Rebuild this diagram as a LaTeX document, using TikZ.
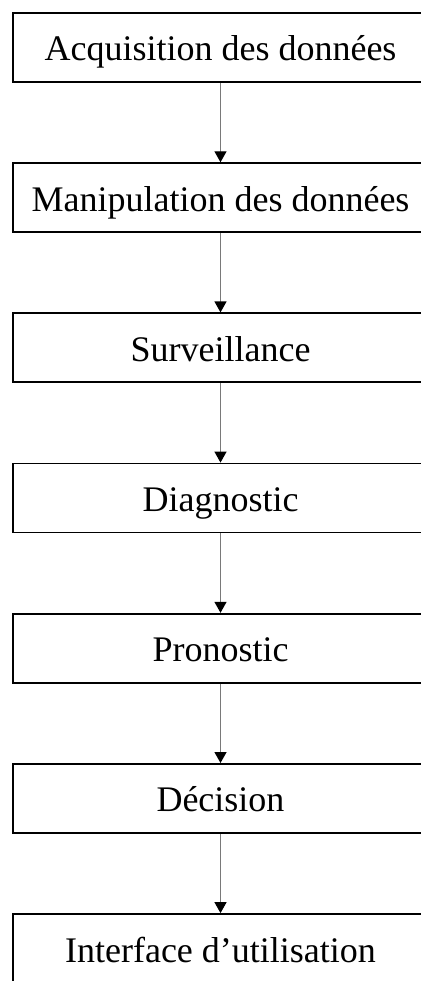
\documentclass[tikz,border=0pt]{standalone}
\usepackage{fontspec}
\setmainfont{Liberation Serif}
\usetikzlibrary{arrows.meta}
\begin{document}
\begin{tikzpicture}[x=1pt,y=-1pt,
  stage/.style={draw=black, line width=1.8pt, rectangle,
    minimum width=415pt, minimum height=69pt, inner sep=0pt,
    text height=27pt, text depth=0pt,
    font=\fontsize{36}{40}\selectfont},
  flow/.style={draw=gray!95!black, line width=1.3pt,
    -{Triangle[width=12pt,length=11pt,color=black,fill=black]}}]
  \useasboundingbox (0,0) rectangle (420,981);
  \fill[white] (0,0) rectangle (420,981);
  % processing chain, one box every 150pt
  \node[stage] (b1) at (220.5, 47.5) {Acquisition des données};
  \node[stage] (b2) at (220.5, 197.7) {Manipulation des données};
  \node[stage] (b3) at (220.5, 347.8) {Surveillance};
  \node[stage] (b4) at (220.5, 498.0) {Diagnostic};
  \node[stage] (b5) at (220.5, 648.2) {Pronostic};
  \node[stage] (b6) at (220.5, 798.4) {Décision};
  \node[stage] (b7) at (220.5, 948.5) {Interface d’utilisation};
  \foreach \a/\b in {b1/b2,b2/b3,b3/b4,b4/b5,b5/b6,b6/b7}
    \draw[flow] (\a.south) -- (\b.north);
\end{tikzpicture}
\end{document}
